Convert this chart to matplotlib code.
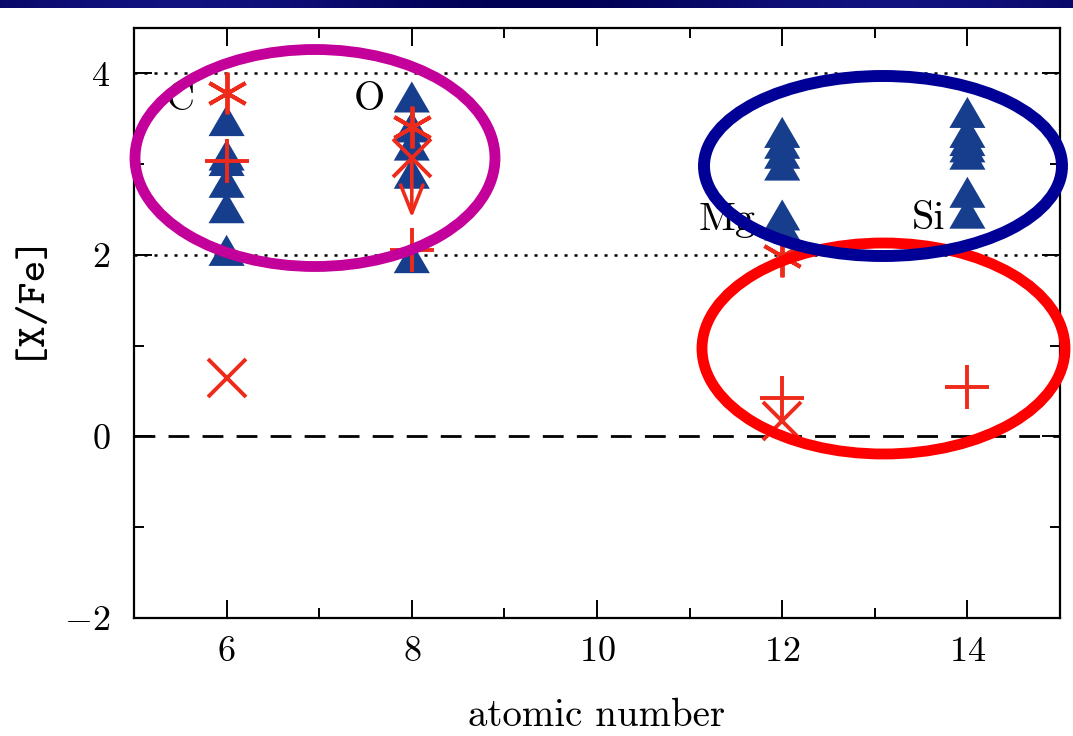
import numpy as np
import matplotlib
matplotlib.use("Agg")
import matplotlib.pyplot as plt
from matplotlib.patches import Ellipse
from matplotlib.ticker import MultipleLocator

plt.rcParams["font.family"] = "serif"
plt.rcParams["font.serif"] = ["cmr10"]
plt.rcParams["mathtext.fontset"] = "cm"
plt.rcParams["axes.formatter.use_mathtext"] = True
plt.rcParams["lines.scale_dashes"] = False

# Lower limits (filled triangles)
tri_z = [6, 6, 6, 6, 6, 6,
         8, 8, 8, 8, 8,
         12, 12, 12, 12, 12, 12,
         14, 14, 14, 14, 14, 14, 14]
tri_val = [3.48, 3.10, 3.04, 2.80, 2.52, 2.05,
           3.74, 3.41, 3.21, 2.90, 1.97,
           3.35, 3.23, 3.12, 2.99, 2.44, 2.33,
           3.57, 3.35, 3.26, 3.19, 3.11, 2.69, 2.46]

# Measured abundances
plus_z = [6, 8, 12, 14]
plus_val = [3.03, 2.05, 0.42, 0.54]
cross_z = [6, 8, 12]
cross_val = [0.64, 3.07, 0.17]
star_z = [6, 8, 12]
star_val = [3.78, 3.41, 1.99]

# Upper limit arrow at oxygen
arrow_z = 8
arrow_from = 3.07
arrow_to = 2.41

elements = ["C", "O", "Mg", "Si"]
elem_x = [5.66, 7.71, 11.71, 13.76]
elem_y = [3.60, 3.60, 2.27, 2.29]

xticks = [6, 8, 10, 12, 14]
yticks = [-2, 0, 2, 4]
ref_lines = [4, 2]

RED = "#ee2a1b"
BLUE = "#173e8c"

W, H = 1073, 736
fig = plt.figure(figsize=(W / 100, H / 100), dpi=100)
fig.patch.set_facecolor("white")

ax = fig.add_axes([134 / W, 1 - 618 / H, 926 / W, 590 / H])
ax.set_xlim(5, 15)
ax.set_ylim(-2, 4.5)

for v in ref_lines:
    ax.axhline(v, color="black", lw=1.8, ls=(0, (2.2, 5.0)), zorder=1)
ax.axhline(0, color="black", lw=2.0, ls=(0, (15, 9.5)), zorder=1)

tri = [(0, 0.43), (-0.5, -0.43), (0.5, -0.43), (0, 0.43)]
ax.scatter(tri_z, tri_val, marker=tri, s=26 ** 2, color=BLUE,
           edgecolors="none", zorder=3)

ax.plot(plus_z, plus_val, ls="none", marker="+", ms=32, mew=2.8,
        color=RED, zorder=4)
ax.plot(cross_z, cross_val, ls="none", marker="x", ms=27, mew=2.8,
        color=RED, zorder=4)
ax.plot(star_z, star_val, ls="none", marker=(6, 2, 0), ms=30, mew=2.8,
        color=RED, zorder=4)
ax.annotate("", xy=(arrow_z, arrow_to), xytext=(arrow_z, arrow_from),
            arrowprops=dict(arrowstyle="->,head_length=1.0,head_width=0.4",
                            mutation_scale=20, lw=2.6, color=RED,
                            shrinkA=0, shrinkB=0),
            zorder=4)

for name, x, y in zip(elements, elem_x, elem_y):
    ax.text(x, y, name, ha="right", va="baseline", fontsize=29,
            color="black", zorder=5)

ax.set_xticks(xticks)
ax.set_yticks(yticks)
ax.xaxis.set_minor_locator(MultipleLocator(1))
ax.yaxis.set_minor_locator(MultipleLocator(1))
ax.tick_params(which="both", direction="in", top=True, right=True,
               width=1.4, colors="black")
ax.tick_params(which="major", length=13, labelsize=26)
ax.tick_params(which="minor", length=7)
ax.tick_params(axis="x", which="major", pad=13)
ax.tick_params(axis="y", which="major", pad=17)
for s in ax.spines.values():
    s.set_linewidth(1.6)

ax.set_xlabel("atomic number", fontsize=28, labelpad=22)
fig.text(28 / W, 1 - 293 / H, "[X/Fe]", rotation=90, ha="center",
         va="center", fontsize=30, family="cmtt10")

# Overlay in pixel coordinates for the highlight rings and header band
ov = fig.add_axes([0, 0, 1, 1], zorder=10)
ov.set_xlim(0, W)
ov.set_ylim(H, 0)
ov.axis("off")
ov.patch.set_alpha(0)

grad = np.linspace(0, 1, 400)
band = 0.5 + 0.5 * np.sin(grad * np.pi * 3.0)
rgb = np.zeros((1, 400, 3))
rgb[0, :, 0] = 0.0 + 0.07 * band
rgb[0, :, 1] = 0.0 + 0.07 * band
rgb[0, :, 2] = 0.33 + 0.17 * band
ov.imshow(rgb, extent=(0, W, 8, 0), aspect="auto", zorder=1)

rings = [
    ((315, 158), 360, 217, "#c4009b", 7.8),
    ((883.5, 348.5), 363, 211, "#ff0000", 7.8),
    ((883, 166), 358, 180, "#000096", 8.6),
]
for (cx, cy), w, h, c, lw in rings:
    ov.add_patch(Ellipse((cx, cy), w, h, fill=False, edgecolor=c, lw=lw,
                         zorder=2))
ov.set_xlim(0, W)
ov.set_ylim(H, 0)

fig.savefig("out.png", dpi=100, facecolor="white")
